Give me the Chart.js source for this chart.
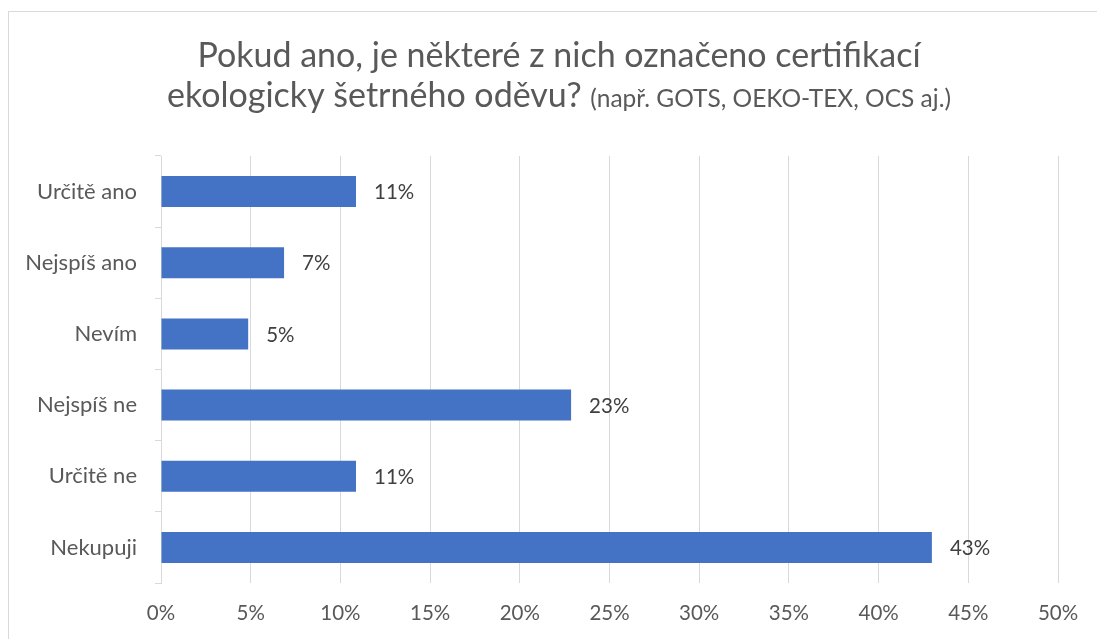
<!DOCTYPE html>
<html>
<head>
<meta charset="utf-8">
<script src="https://cdn.jsdelivr.net/npm/chart.js@4/dist/chart.umd.min.js"></script>
<style>
  html, body { margin: 0; padding: 0; background: #fff; overflow: hidden; }
  #wrap { position: relative; width: 1097px; height: 639px; }
  #frame { position: absolute; left: 8px; top: 11px; width: 1100px; height: 640px; border: 1px solid #d9d9d9; box-sizing: border-box; }
  canvas { position: absolute; left: 0; top: 0; }
</style>
</head>
<body>
<div id="wrap">
  <div id="frame"></div>
  <canvas id="c" width="1097" height="639"></canvas>
</div>
<script>
const categories = ["Určitě ano", "Nejspíš ano", "Nevím", "Nejspíš ne", "Určitě ne", "Nekupuji"];
const values = [10.87, 6.86, 4.86, 22.86, 10.87, 42.97];
const xTicks = [0, 5, 10, 15, 20, 25, 30, 35, 40, 45, 50];
const titleLine1 = "Pokud ano, je některé z nich označeno certifikací";
const titleLine2Main = "ekologicky šetrného oděvu?";
const titleLine2Note = "(např. GOTS, OEKO-TEX, OCS aj.)";

const FONT = "Lato";

const titlePlugin = {
  id: 'mixedTitle',
  afterDraw(chart) {
    const ctx = chart.ctx;
    ctx.save();
    ctx.fillStyle = '#595959';
    ctx.textBaseline = 'alphabetic';
    const big = `34px ${FONT}`;
    const small = `24.5px ${FONT}`;
    const cx = 559;
    ctx.font = big;
    ctx.textAlign = 'center';
    ctx.fillText(titleLine1, cx, 67);
    ctx.textAlign = 'left';
    const w1 = ctx.measureText(titleLine2Main + ' ').width;
    ctx.font = small;
    const w2 = ctx.measureText(titleLine2Note).width;
    const start = cx - (w1 + w2) / 2;
    ctx.font = big;
    ctx.fillText(titleLine2Main + ' ', start, 107);
    ctx.font = small;
    ctx.fillText(titleLine2Note, start + w1, 107);
    ctx.restore();
  }
};

const labelPlugin = {
  id: 'barLabels',
  afterDatasetsDraw(chart) {
    const ctx = chart.ctx;
    const meta = chart.getDatasetMeta(0);
    ctx.save();
    ctx.fillStyle = '#404040';
    ctx.font = `20.5px ${FONT}`;
    ctx.textAlign = 'left';
    ctx.textBaseline = 'middle';
    meta.data.forEach((bar, i) => {
      ctx.fillText(Math.round(values[i]) + '%', bar.x + 18, bar.y + 1);
    });
    ctx.restore();
  }
};

new Chart(document.getElementById('c'), {
  type: 'bar',
  data: {
    labels: categories,
    datasets: [{
      data: values,
      backgroundColor: '#4472C4',
      borderWidth: 0,
      categoryPercentage: 1,
      barPercentage: 0.435
    }]
  },
  options: {
    indexAxis: 'y',
    responsive: false,
    animation: false,
    events: [],
    layout: { padding: { top: 156, right: 39, left: 0, bottom: 0 } },
    plugins: { legend: { display: false }, title: { display: false }, tooltip: { enabled: false } },
    scales: {
      x: {
        min: 0, max: 50,
        afterBuildTicks(scale) { scale.ticks = xTicks.map(v => ({ value: v })); },
        afterFit(scale) { scale.height = 56; },
        grid: { color: '#d9d9d9', lineWidth: 1, drawTicks: false },
        border: { display: false },
        ticks: { color: '#595959', font: { family: FONT, size: 20.5 }, padding: 18, callback: v => v + '%' }
      },
      y: {
        afterFit(scale) { scale.width = 161; },
        grid: { drawOnChartArea: false, drawTicks: true, tickLength: 6, offset: true, color: '#d9d9d9' },
        border: { display: true, color: '#d9d9d9', width: 1 },
        ticks: { color: '#595959', font: { family: FONT, size: 22 }, padding: 18 }
      }
    }
  },
  plugins: [titlePlugin, labelPlugin]
});
</script>
</body>
</html>
